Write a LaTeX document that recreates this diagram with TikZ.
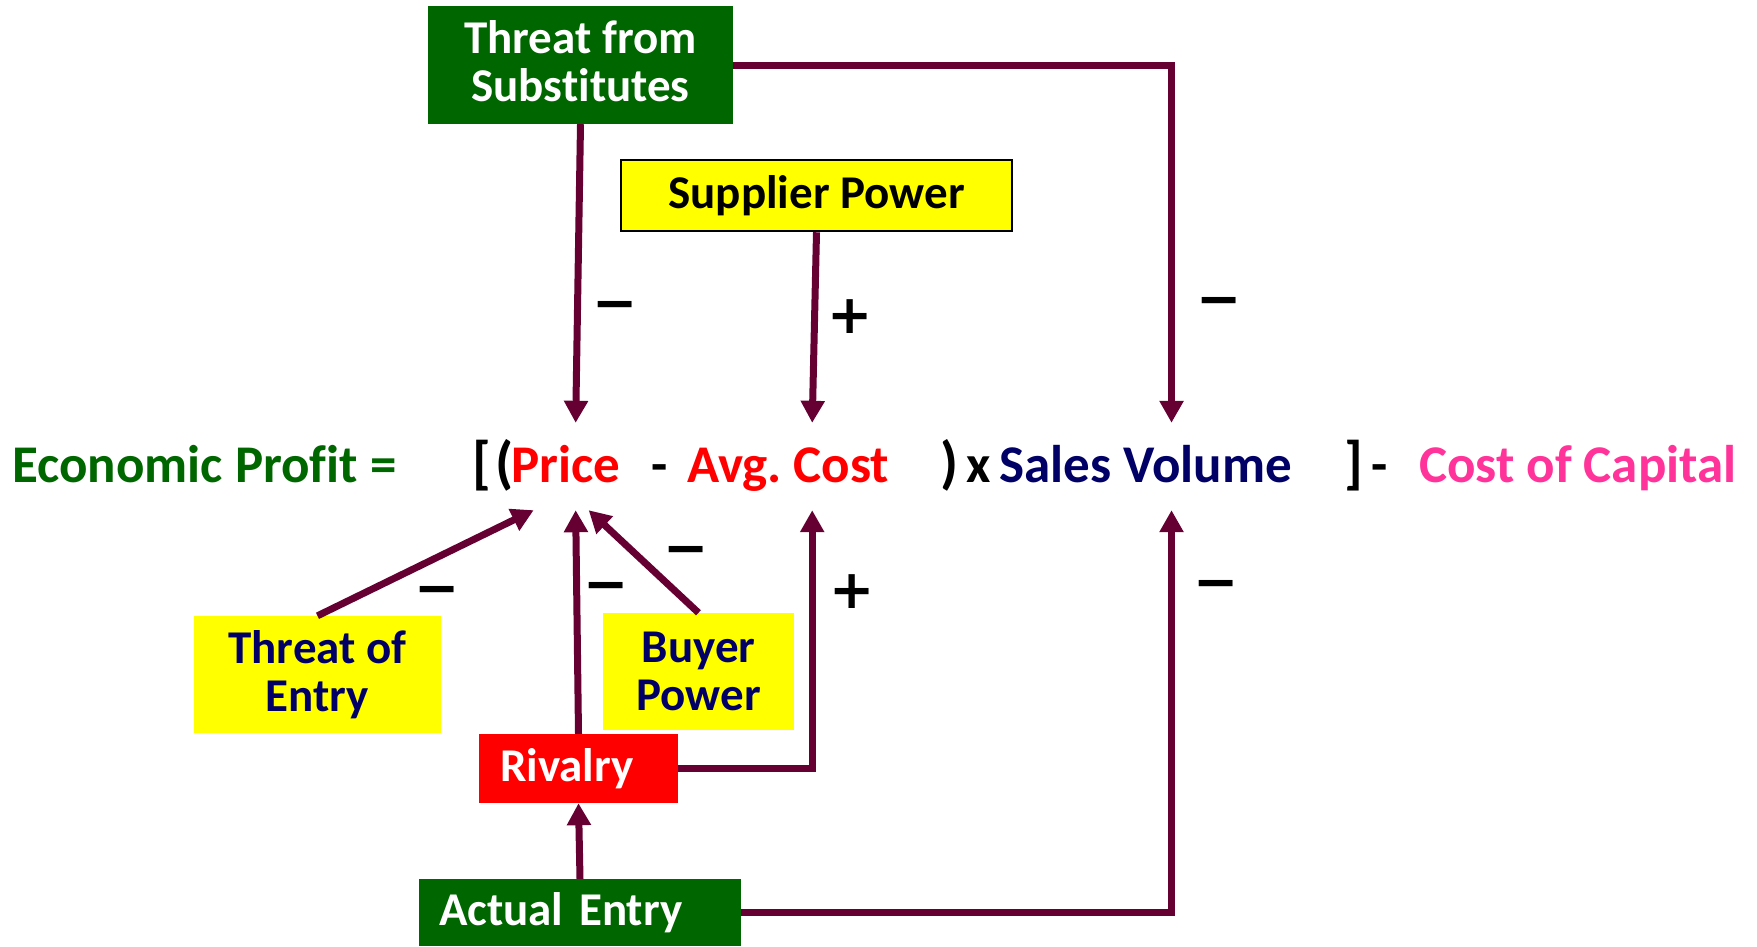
\documentclass[tikz,border=0pt]{standalone}
\usepackage{fontspec}
\setmainfont{Carlito}[Ligatures=NoCommon]
\newfontfamily\signfont{DejaVu Sans}
\usetikzlibrary{arrows.meta}
\definecolor{arr}{HTML}{660033}
\definecolor{dgreen}{HTML}{006600}
\definecolor{navy}{HTML}{000066}
\definecolor{pinkc}{HTML}{FF3399}
\definecolor{yel}{HTML}{FFFF00}
\begin{document}
\begin{tikzpicture}[x=1pt,y=-1pt,
  conn/.style={draw=arr, line width=7pt, -{Triangle[length=22pt,width=23pt]}},
  eqtext/.style={anchor=base west, inner sep=0pt, font=\fontsize{53}{60}\selectfont\bfseries},
  brk/.style={anchor=base west, inner sep=0pt, font=\fontsize{58}{60}\selectfont\bfseries},
  hook/.style={text height=59pt, text depth=28pt},
  box/.style={inner sep=0pt, font=\fontsize{47}{48}\selectfont\bfseries, align=center},
  sign/.style={anchor=base, inner sep=0pt, font=\signfont\fontsize{54}{54}\selectfont\bfseries},
]
\useasboundingbox (0,0) rectangle (1757,946);

% boxes
\node[box, fill=dgreen, text=white, minimum width=305pt, minimum height=118pt] (tfs) at (580.5,65) {Threat from\\Substitutes\vrule depth 7pt width 0pt};
\node[box, fill=yel, draw=black, line width=2.5pt, text=black, minimum width=391pt, minimum height=71pt] (sp) at (816.5,195.5) {Supplier Power};
\node[box, fill=yel, text=navy, minimum width=247pt, minimum height=117pt] (toe) at (317.5,674.5) {Threat of\\Entry};
\node[box, fill=yel, text=navy, minimum width=191pt, minimum height=117pt] (buyer) at (698.5,671.5) {Buyer\\Power};
\node[box, fill=red, text=white, minimum width=199pt, minimum height=69pt, text width=157pt, align=left] (rival) at (578.5,768.5) {Rivalry};
\node[box, fill=dgreen, text=white, minimum width=322pt, minimum height=67pt, text width=282pt, align=left] (ae) at (580,912.5) {Actual Entry};

% equation
\node[eqtext, text=dgreen] (eq) at (12,482) {Economic Profit =};
\node[brk] (lb) at (472,482) {[};
\node[brk] (lp) at (495,482) {(};
\node[eqtext, hook, text=red] (price) at (511,482) {Price};
\node[eqtext] (minus1) at (651,482) {-};
\node[eqtext, hook, text=red] (avg) at (687,482) {\frenchspacing Avg. Cost};
\node[brk] (rp) at (940,482) {)};
\node[eqtext] (times) at (966,482) {x};
\node[eqtext, hook, text=navy] (sales) at (999,482) {Sales Volume};
\node[brk] (rb) at (1344,482) {]};
\node[eqtext] (minus2) at (1371,482) {-};
\node[eqtext, text=pinkc] (coc) at (1419,482) {Cost of Capital};

% connectors
\draw[conn] (tfs.south) -- ([xshift=10pt]price.north);
\draw[conn] (tfs.east) -| ([xshift=26pt]sales.north);
\draw[conn] (sp.south) -- ([xshift=24pt]avg.north);
\draw[conn] (toe.north) -- ([xshift=-32pt]price.south);
\draw[conn] (rival.north) -- ([xshift=10pt]price.south);
\draw[conn] (buyer.north) -- ([xshift=23pt]price.south);
\draw[conn] (rival.east) -| ([xshift=24pt]avg.south);
\draw[conn] (ae.north) -- (rival.south);
\draw[conn] (ae.east) -| ([xshift=26pt]sales.south);

% signs
\node[sign] (s1) at (615,321) {−};
\node[sign] (s2) at (1219,317) {−};
\node[sign] (s3) at (850,333) {+};
\node[sign] (s4) at (437,606) {−};
\node[sign] (s5) at (606,602) {−};
\node[sign] (s6) at (686,566) {−};
\node[sign] (s7) at (852,608) {+};
\node[sign] (s8) at (1216,600) {−};
\end{tikzpicture}
\end{document}
